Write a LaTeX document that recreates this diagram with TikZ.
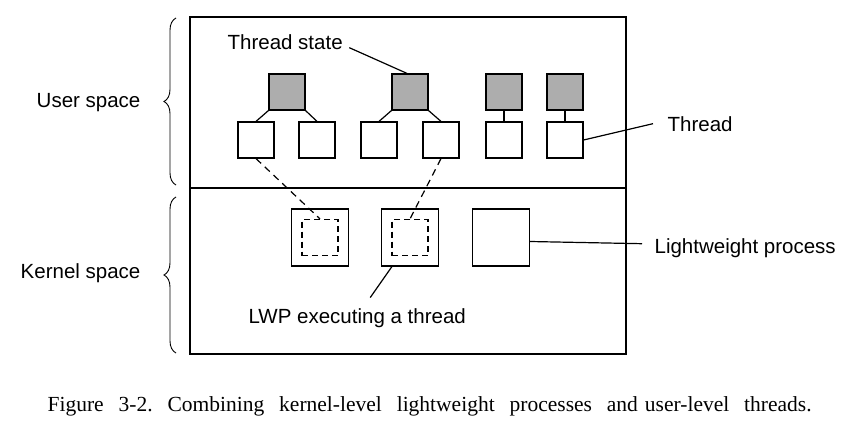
\documentclass[tikz,border=0pt]{standalone}
\usepackage{fontspec}
\setmainfont{Liberation Serif}
\setsansfont{Liberation Sans}
\usetikzlibrary{decorations.pathreplacing}
\frenchspacing

\begin{document}
\begin{tikzpicture}[x=1pt, y=-1pt, line width=1.2pt,
    lbl/.style={font=\sffamily\fontsize{20.5}{24}\selectfont, inner sep=0pt},
    tstate/.style={draw, fill=black!32, minimum size=36pt, inner sep=0pt},
    thread/.style={draw, fill=white, minimum size=36pt, inner sep=0pt},
    lwp/.style={draw, minimum size=57pt, inner sep=0pt},
    lwpin/.style={draw, dash pattern=on 6pt off 4pt, minimum size=36pt, inner sep=0pt},
    link/.style={dash pattern=on 7pt off 5pt}]

    \useasboundingbox (0,0) rectangle (859,431);

    % === outer frame ===
    \draw (190,17) rectangle (626,354);
    \draw (190,188) -- (626,188);

    % braces and space labels
    \draw[decorate, decoration={brace, amplitude=12pt}, line width=0.9pt] (176,185) -- (176,18);
    \draw[decorate, decoration={brace, amplitude=12pt}, line width=0.9pt] (176,353) -- (176,197);
    \node[lbl, anchor=base east] (usr) at (141,107) {User space};
    \node[lbl, anchor=base east] (krn) at (141,278) {Kernel space};

    % === user space ===
    % thread states
    \node[tstate] (st1) at (287,92) {};
    \node[tstate] (st2) at (410,92) {};
    \node[tstate] (st3) at (504,92) {};
    \node[tstate] (st4) at (565,92) {};

    % threads
    \node[thread] (th1) at (256,140) {};
    \node[thread] (th2) at (317,140) {};
    \node[thread] (th3) at (379,140) {};
    \node[thread] (th4) at (441,140) {};
    \node[thread] (th5) at (504,140) {};
    \node[thread] (th6) at (565,140) {};

    \draw (st1.south west) -- (th1.north);
    \draw (st1.south east) -- (th2.north);
    \draw (st2.south west) -- (th3.north);
    \draw (st2.south east) -- (th4.north);
    \draw (st3.south) -- (th5.north);
    \draw (st4.south) -- (th6.north);

    \node[lbl, anchor=base west] (tslbl) at (227,49) {Thread state};
    \draw ([shift={(6,6)}]tslbl.east) -- ([xshift=-3pt]st2.north);
    \node[lbl, anchor=base west] (thlbl) at (667,131) {Thread};
    \draw (th6.east) -- ([xshift=-14pt]thlbl.west);

    % === kernel space ===
    \node[lwp] (lwp1) at (320,237.5) {};
    \node[lwp] (lwp2) at (410,237.5) {};
    \node[lwp] (lwp3) at (501,237.5) {};
    \node[lwpin] (in1) at (320,237.5) {};
    \node[lwpin] (in2) at (410,237.5) {};

    \draw[link] (th1.south) -- (in1.north);
    \draw[link] (th4.south) -- (in2.north);

    \node[lbl, anchor=base west] (lplbl) at (654,253) {Lightweight process};
    \draw ([shift={(0,4)}]lwp3.east) -- ([shift={(-12,-4)}]lplbl.west);
    \node[lbl, anchor=base west] (exlbl) at (248,323) {LWP executing a thread};
    \draw ([shift={(13,-10)}]exlbl.north) -- ([shift={(11,0)}]lwp2.south west);

    % caption
    \node[anchor=base west, inner sep=0pt, font=\fontsize{21.5}{26}\selectfont] (cap) at (47,411)
        {\makebox[764pt][s]{Figure 3-2. Combining kernel-level lightweight processes and\kern7pt user-level threads.}};

\end{tikzpicture}
\end{document}
